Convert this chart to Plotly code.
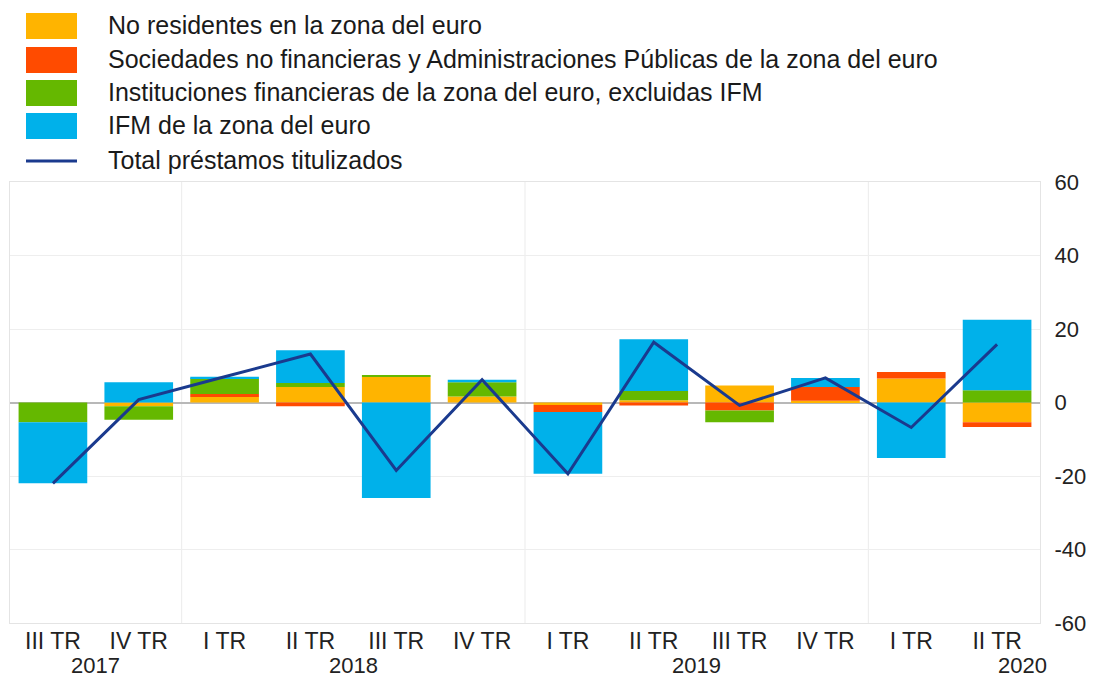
import plotly.graph_objects as go

quarters = ["III TR", "IV TR", "I TR", "II TR", "III TR", "IV TR",
            "I TR", "II TR", "III TR", "IV TR", "I TR", "II TR"]
years_of_q = [2017, 2017, 2018, 2018, 2018, 2018, 2019, 2019, 2019, 2019, 2020, 2020]

no_residentes = [0.0, -1.0, 1.5, 4.2, 7.0, 1.6, -0.7, 0.6, 4.6, 0.5, 6.5, -5.4]
sociedades = [0.0, 0.0, 0.8, -1.0, 0.0, 0.0, -1.9, -0.8, -2.2, 3.7, 1.8, -1.3]
instituciones = [-5.4, -3.7, 4.3, 1.1, 0.5, 3.9, 0.0, 2.5, -3.2, 0.0, 0.0, 3.3]
ifm = [-16.6, 5.5, 0.4, 8.9, -26.0, 0.7, -16.8, 14.1, 0.0, 2.5, -15.1, 19.2]
total = [-22.0, 0.8, 7.0, 13.2, -18.5, 6.2, -19.4, 16.4, -0.8, 6.7, -6.8, 15.8]

names = [
    "No residentes en la zona del euro",
    "Sociedades no financieras y Administraciones Públicas de la zona del euro",
    "Instituciones financieras de la zona del euro, excluidas IFM",
    "IFM de la zona del euro",
    "Total préstamos titulizados",
]
colors = ["#FFB400", "#FF4B00", "#65B800", "#00B1EA", "#1a3a8e"]
y_ticks = [-60, -40, -20, 0, 20, 40, 60]
y_ticktext = ["-60", "-40", "-20", "0", "20", "40", "60"]

FONT = "Liberation Sans, Arial, sans-serif"
OFF = 8  # default page body margin
W, H = 1094 - OFF, 678 - OFF
ML, MR, MT, MB = 2, 54, 174, 55
PW, PH = W - ML - MR, H - MT - MB

x = list(range(len(quarters)))

fig = go.Figure()
for vals, nm, col in zip([no_residentes, sociedades, instituciones, ifm], names[:4], colors[:4]):
    fig.add_trace(go.Bar(x=x, y=vals, name=nm, marker=dict(color=col, line=dict(width=0)),
                         showlegend=False))
fig.add_trace(go.Scatter(x=x, y=total, name=names[4], mode="lines",
                         line=dict(color=colors[4], width=3), showlegend=False))

# year separators (between IV TR and I TR)
shapes = []
for i in range(1, len(x)):
    if years_of_q[i] != years_of_q[i - 1]:
        shapes.append(dict(type="line", xref="x", yref="paper", x0=i - 0.5, x1=i - 0.5,
                           y0=0, y1=1, line=dict(color="#ebebeb", width=1), layer="below"))


def py2paper(py):
    return (H - MB - (py - OFF)) / PH


def px2paper(px):
    return (px - OFF - ML) / PW


annotations = []
# custom legend
row_centers = [26, 60, 93, 126, 161]
for k, (nm, col) in enumerate(zip(names, colors)):
    yc = row_centers[k]
    if k < 4:
        shapes.append(dict(type="rect", xref="paper", yref="paper",
                           x0=px2paper(26), x1=px2paper(77),
                           y0=py2paper(yc + 13), y1=py2paper(yc - 13),
                           fillcolor=col, line=dict(width=0)))
    else:
        shapes.append(dict(type="line", xref="paper", yref="paper",
                           x0=px2paper(26), x1=px2paper(77),
                           y0=py2paper(yc), y1=py2paper(yc),
                           line=dict(color=col, width=3)))
    annotations.append(dict(text=nm, xref="paper", yref="paper", x=px2paper(106),
                            y=py2paper(yc - 1), xanchor="left", yanchor="middle",
                            showarrow=False, font=dict(family=FONT, size=25, color="#1a1a1a")))

# year labels: centred on the full year, kept inside the axis
seen = []
for i, yr in enumerate(years_of_q):
    if yr not in seen:
        seen.append(yr)
        q_pos = ["I TR", "II TR", "III TR", "IV TR"].index(quarters[i])
        center = i - q_pos + 1.5
        center = max(0.5, min(center, len(x) - 1 + 0.3))
        annotations.append(dict(text=str(yr), xref="x", yref="paper", x=center, y=0,
                                yshift=-42, xanchor="center", yanchor="middle",
                                showarrow=False, font=dict(family=FONT, size=22, color="#222")))

fig.update_layout(
    width=W, height=H,
    margin=dict(l=ML, r=MR, t=MT, b=MB),
    paper_bgcolor="white", plot_bgcolor="white",
    barmode="relative", bargap=0.2,
    shapes=shapes, annotations=annotations,
    font=dict(family=FONT, color="#222"),
)
fig.update_xaxes(
    range=[-0.5, len(x) - 0.5], tickvals=x, ticktext=quarters,
    tickfont=dict(family=FONT, size=23, color="#222"),
    showgrid=False, zeroline=False, ticks="", ticklabelstandoff=-3,
    showline=True, linecolor="#e4e4e4", linewidth=1, mirror=True,
)
fig.update_yaxes(
    range=[-60, 60], tickvals=y_ticks, ticktext=y_ticktext, side="right",
    tickfont=dict(family=FONT, size=22, color="#222"),
    showgrid=True, gridcolor="#eeeeee", gridwidth=1,
    zeroline=True, zerolinecolor="#b8b8b8", zerolinewidth=1.5,
    ticks="outside", ticklen=9, tickcolor="rgba(0,0,0,0)",
    showline=True, linecolor="#e4e4e4", linewidth=1, mirror=True,
)

fig.write_html("out.html")
